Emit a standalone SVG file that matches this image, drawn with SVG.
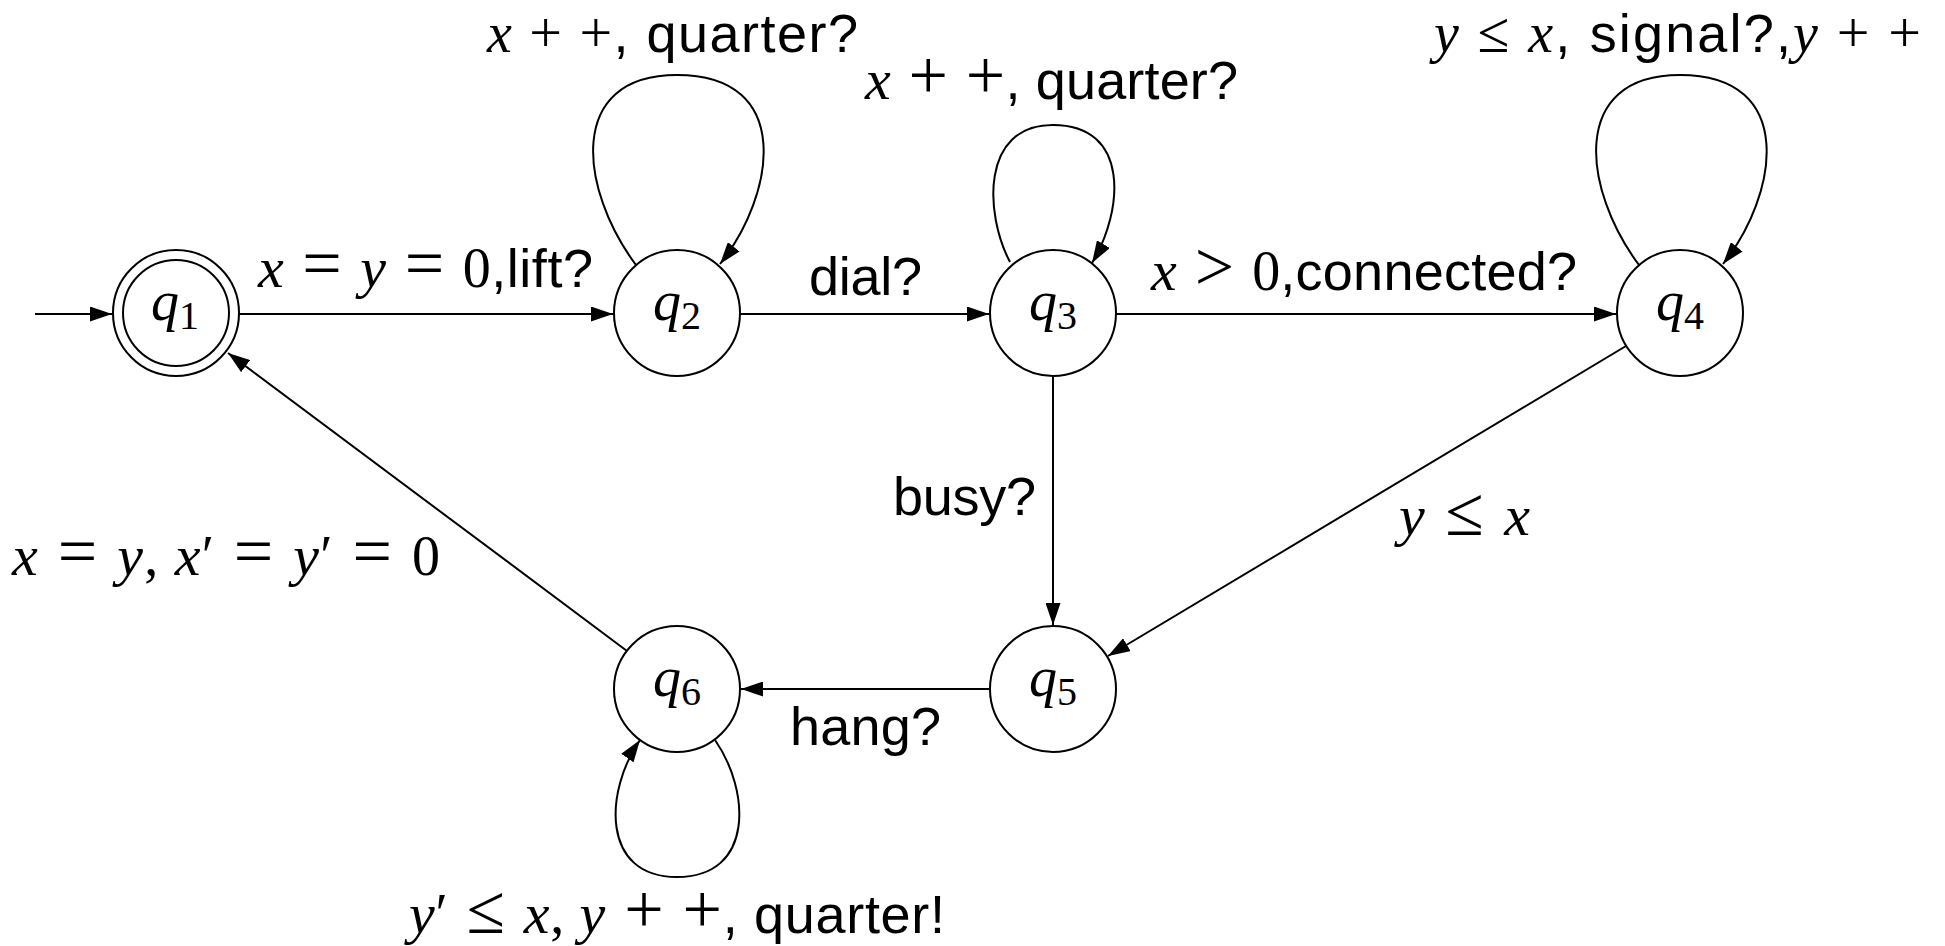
<svg xmlns="http://www.w3.org/2000/svg" width="1945" height="946" viewBox="0 0 1945 946">
<style>
  .node { fill: #fff; stroke: #000; stroke-width: 2; }
  .edge { fill: none; stroke: #000; stroke-width: 2; marker-end: url(#arr); }
  text { fill: #000; white-space: pre; }
  .nl { font-family: "Liberation Serif", "DejaVu Serif", serif; font-style: italic; font-size: 56px; }
  .sub { font-style: normal; font-size: 40px; }
  .s { font-family: "Liberation Sans", Arial, sans-serif; font-size: 54px; font-style: normal; }
  .mi { font-family: "Liberation Serif", "DejaVu Serif", serif; font-style: italic; font-size: 58px; }
  .mo { font-family: "Liberation Serif", "DejaVu Serif", serif; font-style: normal; font-size: 56px; }
  .op { font-family: "Liberation Serif", "DejaVu Serif", serif; font-style: normal; font-size: 70px; }
  .top .mi { font-size: 56px; }
  .top .op { font-size: 58px; }
</style>
<defs>
  <marker id="arr" markerWidth="22" markerHeight="15" refX="22" refY="7.5" orient="auto" markerUnits="userSpaceOnUse">
    <path d="M0,0 L22,7.5 L0,15 z" fill="#000"/>
  </marker>
</defs>
<rect width="1945" height="946" fill="#fff"/>
<g id="connectors">
  <path class="edge" d="M35,314 L112,314"/>
  <path class="edge" d="M239,314 L613,314"/>
  <path class="edge" d="M741,314 L989,314"/>
  <path class="edge" d="M1116,314 L1616,314"/>
  <path class="edge" d="M1053,377 L1053,625"/>
  <path class="edge" d="M1626,346 L1108,656"/>
  <path class="edge" d="M990,689 L741,689"/>
  <path class="edge" d="M627,651 L228,353"/>
  <path class="edge" d="M636,265 C580,190 565,75 677,75 C795,75 775,195 720,264"/>
  <path class="edge" d="M1010,262 C985,215 980,125 1053,125 C1130,125 1124,210 1092,263"/>
  <path class="edge" d="M1639,265 C1583,190 1568,75 1680,75 C1798,75 1778,195 1723,264"/>
  <path class="edge" d="M715,740 C750,790 755,877 677,877 C600,877 605,790 640,740"/>
</g>
<g id="edge-labels">
  <text class="top" x="487" y="52" textLength="371" lengthAdjust="spacing"><tspan class="mi">x</tspan><tspan class="op"> + +</tspan><tspan class="s">, quarter?</tspan></text>
  <text x="865" y="99" textLength="373" lengthAdjust="spacing"><tspan class="mi">x</tspan><tspan class="op"> + +</tspan><tspan class="s">, quarter?</tspan></text>
  <text class="top" x="1434" y="52" textLength="487" lengthAdjust="spacing"><tspan class="mi">y</tspan><tspan class="op"> ≤ </tspan><tspan class="mi">x</tspan><tspan class="s">, signal?,</tspan><tspan class="mi">y</tspan><tspan class="op"> + +</tspan></text>
  <text x="258" y="287" textLength="335" lengthAdjust="spacing"><tspan class="mi">x</tspan><tspan class="op"> = </tspan><tspan class="mi">y</tspan><tspan class="op"> = </tspan><tspan class="mo">0</tspan><tspan class="s">,lift?</tspan></text>
  <text x="809" y="295" textLength="113" lengthAdjust="spacing" class="s">dial?</text>
  <text x="1151" y="290" textLength="426" lengthAdjust="spacing"><tspan class="mi">x</tspan><tspan class="op"> &gt; </tspan><tspan class="mo">0</tspan><tspan class="s">,connected?</tspan></text>
  <text x="893" y="515" textLength="143" lengthAdjust="spacing" class="s">busy?</text>
  <text x="1399" y="535" textLength="131" lengthAdjust="spacing"><tspan class="mi">y</tspan><tspan class="op"> ≤ </tspan><tspan class="mi">x</tspan></text>
  <text x="12" y="575" textLength="428" lengthAdjust="spacing"><tspan class="mi">x</tspan><tspan class="op"> = </tspan><tspan class="mi">y</tspan><tspan class="mo">, </tspan><tspan class="mi">x</tspan><tspan class="mo">′</tspan><tspan class="op"> = </tspan><tspan class="mi">y</tspan><tspan class="mo">′</tspan><tspan class="op"> = </tspan><tspan class="mo">0</tspan></text>
  <text x="790" y="745" textLength="151" lengthAdjust="spacing" class="s">hang?</text>
  <text x="409" y="933" textLength="536" lengthAdjust="spacing"><tspan class="mi">y</tspan><tspan class="mo">′</tspan><tspan class="op"> ≤ </tspan><tspan class="mi">x</tspan><tspan class="mo">, </tspan><tspan class="mi">y</tspan><tspan class="op"> + +</tspan><tspan class="s">, quarter!</tspan></text>
</g>
<g id="q1">
  <circle class="node" cx="176" cy="313" r="63"/>
  <circle class="node" cx="176" cy="313" r="53"/>
  <text class="nl" x="175" y="320" text-anchor="middle">q<tspan class="sub" dy="9">1</tspan></text>
</g>
<g id="q2">
  <circle class="node" cx="677" cy="313" r="63"/>
  <text class="nl" x="677" y="320" text-anchor="middle">q<tspan class="sub" dy="9">2</tspan></text>
</g>
<g id="q3">
  <circle class="node" cx="1053" cy="313" r="63"/>
  <text class="nl" x="1053" y="320" text-anchor="middle">q<tspan class="sub" dy="9">3</tspan></text>
</g>
<g id="q4">
  <circle class="node" cx="1680" cy="313" r="63"/>
  <text class="nl" x="1680" y="320" text-anchor="middle">q<tspan class="sub" dy="9">4</tspan></text>
</g>
<g id="q5">
  <circle class="node" cx="1053" cy="689" r="63"/>
  <text class="nl" x="1053" y="696" text-anchor="middle">q<tspan class="sub" dy="9">5</tspan></text>
</g>
<g id="q6">
  <circle class="node" cx="677" cy="689" r="63"/>
  <text class="nl" x="677" y="696" text-anchor="middle">q<tspan class="sub" dy="9">6</tspan></text>
</g>
</svg>
